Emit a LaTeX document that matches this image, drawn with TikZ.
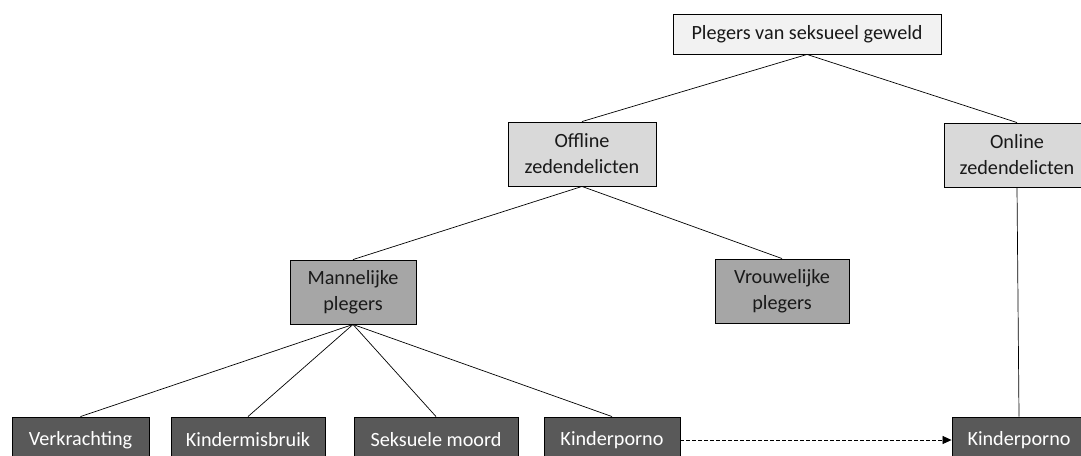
\documentclass[tikz,border=0pt]{standalone}
\usepackage{fontspec}
\setmainfont{Carlito}
\usetikzlibrary{arrows.meta}
\definecolor{lvA}{HTML}{F2F2F2}
\definecolor{lvB}{HTML}{D9D9D9}
\definecolor{lvC}{HTML}{A6A6A6}
\definecolor{lvD}{HTML}{595959}
\begin{document}
\begin{tikzpicture}[x=1pt,y=-1pt,
  box/.style={draw=black, line width=0.9pt, inner sep=0pt, align=center,
    font=\fontsize{20.2}{26}\selectfont, text=black!90},
  lvlA/.style={box, fill=lvA},
  lvlB/.style={box, fill=lvB},
  lvlC/.style={box, fill=lvC},
  lvlD/.style={box, fill=lvD, text=white},
  conn/.style={draw=black, line width=0.7pt},
  dconn/.style={draw=black, line width=0.7pt, dash pattern=on 3.5pt off 2.5pt, -{Triangle[length=9pt,width=8pt]}}
]
\useasboundingbox (0,0) rectangle (1081,455);
\fill[white] (0,0) rectangle (1081,455);
\node[lvlA, minimum width=268pt, minimum height=40pt] (top) at (807,34) {Plegers van seksueel geweld};
\node[lvlB, minimum width=148pt, minimum height=64pt] (off) at (582,154) {Offline\\zedendelicten};
\node[lvlB, minimum width=146pt, minimum height=64pt] (on) at (1017,155) {Online\\zedendelicten};
\node[lvlC, minimum width=126pt, minimum height=64pt] (man) at (353,292) {Mannelijke\\plegers};
\node[lvlC, minimum width=134pt, minimum height=64pt] (vrouw) at (782,291) {Vrouwelijke\\plegers};
\node[lvlD, minimum width=137pt, minimum height=46pt] (verk) at (80.5,440) {Verkrachting};
\node[lvlD, minimum width=154pt, minimum height=46pt] (kmis) at (248,440) {Kindermisbruik};
\node[lvlD, minimum width=164pt, minimum height=46pt] (moord) at (436,440) {Seksuele moord};
\node[lvlD, minimum width=136pt, minimum height=46pt] (kp) at (612,440) {Kinderporno};
\node[lvlD, minimum width=134pt, minimum height=46pt] (kpr) at (1019,440) {Kinderporno};
\draw[conn] (top.south) -- (off.north);
\draw[conn] (top.south) -- (on.north);
\draw[conn] (off.south) -- (man.north);
\draw[conn] (off.south) -- (vrouw.north);
\draw[conn] (man.south) -- (verk.north);
\draw[conn] (man.south) -- (kmis.north);
\draw[conn] (man.south) -- (moord.north);
\draw[conn] (man.south) -- (kp.north);
\draw[conn] (on.south) -- (kpr.north);
\draw[dconn] (kp.east) -- (kpr.west);
\end{tikzpicture}
\end{document}
